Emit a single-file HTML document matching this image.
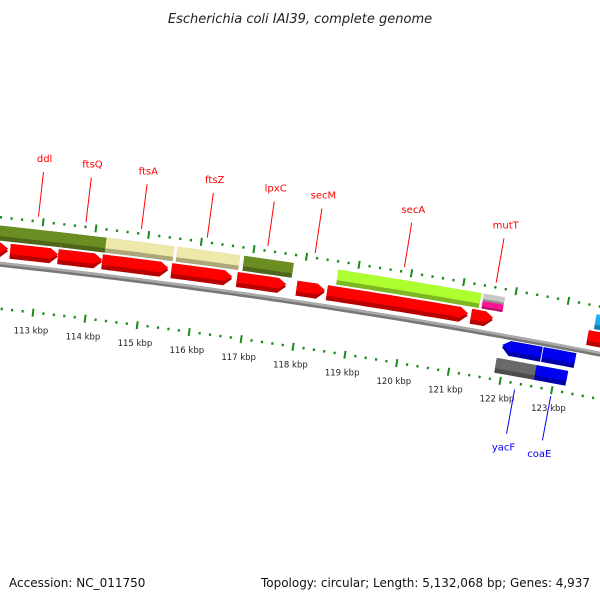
<!DOCTYPE html>
<html><head><meta charset="utf-8"><style>
html,body{margin:0;padding:0;background:#fff}
svg{display:block}
text{font-family:"DejaVu Sans","Liberation Sans",sans-serif}
</style></head><body>
<svg id="map" width="600" height="600" viewBox="0 0 600 600" xmlns="http://www.w3.org/2000/svg">
<defs>
<linearGradient id="bb" x1="0" y1="0" x2="0" y2="1"><stop offset="0" stop-color="#b0b0b0"/><stop offset="1" stop-color="#6e6e6e"/></linearGradient>
</defs>
<text x="300" y="23" text-anchor="middle" font-size="13" font-style="italic" fill="#222">Escherichia coli IAI39, complete genome</text>
<g id="rings"></g>
<text x="9" y="587" font-size="12" fill="#111">Accession: NC_011750</text>
<text x="590" y="587" text-anchor="end" font-size="12" fill="#111" textLength="329" lengthAdjust="spacingAndGlyphs">Topology: circular; Length: 5,132,068 bp; Genes: 4,937</text>
</svg>
<script>
// data
const fwdGeneStart=[111.87,112.44,113.35,114.19,115.51,116.76,117.90,118.48,121.24,123.48];
const fwdGeneEnd  =[112.40,113.35,114.19,115.45,116.67,117.70,118.44,121.18,121.66,124.30];
const cogFwdStart=[111.60,113.38,114.22,115.57,116.84,118.63,123.57];
const cogFwdEnd  =[113.38,114.22,115.51,116.76,117.78,121.36,124.30];
const cogFwdColor=["#6b8e23","#6b8e23","#eee8aa","#eee8aa","#6b8e23","#adff2f","#1ab0f0"];
const mutTStart=121.41, mutTEnd=121.81;
const revGeneStart=[121.92,122.70];
const revGeneEnd  =[122.68,123.33];
const cogRevStart=[121.86,122.63];
const cogRevEnd  =[122.63,123.24];
const cogRevColor=["#696969","#0000ee"];
const tickKbp=[113,114,115,116,117,118,119,120,121,122,123];
const tickLabels=["113 kbp","114 kbp","115 kbp","116 kbp","117 kbp","118 kbp","119 kbp","120 kbp","121 kbp","122 kbp","123 kbp"];
const geneLabels=["ddl","ftsQ","ftsA","ftsZ","lpxC","secM","secA","mutT"];
const geneLabelKbp=[112.9,113.8,114.85,116.1,117.25,118.15,119.85,121.6];
const revLabels=["yacF","coaE"];
const revLabelKbp=[122.3,123.0];

const CX=-780, CY=7521, PHI0=6.435, DEG_PER_KBP=0.4144;
const NS="http://www.w3.org/2000/svg";
const g=document.getElementById('rings');
function P(k,r){const a=(PHI0+(k-113)*DEG_PER_KBP)*Math.PI/180;return [CX+r*Math.sin(a),CY-r*Math.cos(a)];}
function el(t,attrs){const e=document.createElementNS(NS,t);for(const k in attrs)e.setAttribute(k,attrs[k]);g.appendChild(e);return e;}
function arcPts(k1,k2,r){const pts=[];const n=Math.max(2,Math.ceil((k2-k1)*6));for(let i=0;i<=n;i++)pts.push(P(k1+(k2-k1)*i/n,r));return pts;}
function band(k1,k2,r1,r2,dir){ // dir: 1 arrow forward, -1 reverse, 0 none
  const head=0.15;let a=k1,b=k2;
  if(dir===1)b=k2-head; if(dir===-1)a=k1+head;
  let pts=arcPts(a,b,r2);
  if(dir===1)pts.push(P(k2,(r1+r2)/2));
  pts=pts.concat(arcPts(a,b,r1).reverse());
  if(dir===-1)pts.push(P(k1,(r1+r2)/2));
  return pts.map(p=>p[0].toFixed(1)+','+p[1].toFixed(1)).join(' ');
}
function shade(c){const n=parseInt(c.slice(1),16);const f=v=>Math.round(v*0.72);return 'rgb('+f(n>>16)+','+f((n>>8)&255)+','+f(n&255)+')';}
function feature(name,k1,k2,r1,r2,color,dir){
  const lo=el('polygon',{points:band(k1,k2,r1,r2,dir),fill:shade(color)});
  
  
  const hi=el('polygon',{points:band(k1,k2,r1+(r2-r1)*0.3,r2,dir),fill:color});
  
  
}
// rulers
function ruler(r,name){
  for(let k=111.4;k<=124.6;k+=0.2){
    const kr=Math.round(k*5)/5;const major=Math.abs(kr-Math.round(kr))<1e-6;
    const p1=P(kr,major?r-4:r-1),p2=P(kr,major?r+4:r+1.5);
    const l=el('line',{x1:p1[0],y1:p1[1],x2:p2[0],y2:p2[1],stroke:'#1a8a1a','stroke-width':major?2:2.2});
    
    
  }
}
ruler(7345,'outer-ruler');
ruler(7254,'inner-ruler');
tickKbp.forEach((k,i)=>{const p=P(k,7236);const t=el('text',{x:p[0],y:p[1]+3,'text-anchor':'middle','font-size':'8.5',fill:'#222'});t.textContent=tickLabels[i];

});
// backbone
const bb=el('polygon',{points:band(111.2,125,7296,7301,0),fill:'#777'});


const bb2=el('polygon',{points:band(111.2,125,7298.5,7301,0),fill:'#aaa'});


// features
fwdGeneStart.forEach((s,i)=>feature('forward-gene',s,fwdGeneEnd[i],7305,7320,'#ff0000',1));
cogFwdStart.forEach((s,i)=>feature('forward-cog',s,cogFwdEnd[i],7322,7337,cogFwdColor[i],0));
feature('mutT-cog-a',mutTStart,mutTEnd,7329.5,7337,'#c8c8c8',0);
feature('mutT-cog-b',mutTStart,mutTEnd,7322,7329.5,'#ff1493',0);
revGeneStart.forEach((s,i)=>feature('reverse-gene',s,revGeneEnd[i],7280,7295,'#0000ee',i===0?-1:0));
cogRevStart.forEach((s,i)=>feature('reverse-cog',s,cogRevEnd[i],7261,7276,cogRevColor[i],0));
// labels
geneLabels.forEach((n,i)=>{const k=geneLabelKbp[i];
  const a=P(k,7350),b=P(k,7395),c=P(k,7405);
  const l=el('line',{x1:a[0],y1:a[1],x2:b[0],y2:b[1],stroke:'#ff0000','stroke-width':1});
  
  
  const t=el('text',{x:c[0],y:c[1],'text-anchor':'middle','font-size':'10',fill:'#ff0000'});t.textContent=n;
  
  });
revLabels.forEach((n,i)=>{const k=revLabelKbp[i];
  const a=P(k,7248),b=P(k,7203),c=P(k,7186);
  const l=el('line',{x1:a[0],y1:a[1],x2:b[0],y2:b[1],stroke:'#0000ee','stroke-width':1});
  
  
  const t=el('text',{x:c[0],y:c[1],'text-anchor':'middle','font-size':'10',fill:'#0000ee'});t.textContent=n;
  
  });
</script>
</body></html>
